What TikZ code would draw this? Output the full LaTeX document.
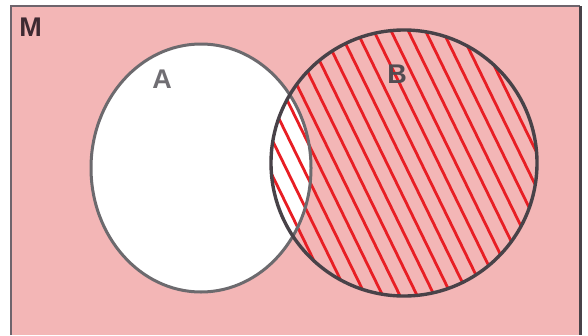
\documentclass[tikz,border=0pt]{standalone}
\usepackage{fontspec}
\setmainfont{Liberation Sans}
\definecolor{pinkbg}{RGB}{243,182,182}
\definecolor{hatchred}{RGB}{232,30,36}
\definecolor{edgeA}{RGB}{108,106,110}
\definecolor{edgeB}{RGB}{72,66,72}
\definecolor{frameC}{RGB}{110,100,108}
\definecolor{labM}{RGB}{62,42,50}
\definecolor{labA}{RGB}{112,110,115}
\definecolor{labB}{RGB}{82,76,82}
\begin{document}
\begin{tikzpicture}[x=1pt,y=-1pt,
  lbl/.style={font=\bfseries\fontsize{27}{27}\selectfont, inner sep=0pt},
  frame/.style={draw=frameC, line width=1.2pt},
  hatchline/.style={draw=hatchred, line width=2.8pt, line cap=round},
  setA/.style={draw=edgeA, line width=3pt},
  setB/.style={draw=edgeB, line width=3.4pt}]
\useasboundingbox (0,0) rectangle (588,335);
\fill[white] (0,0) rectangle (588,335);
\fill[pinkbg] (11,6) rectangle (580,335);
\draw[frame] (11,335) -- (11,6) -- (580,6);
\draw[draw=edgeB, line width=2.6pt] (580.5,6) -- (580.5,335);
% set A interior is white
\fill[white] (201,168) ellipse [x radius=110pt, y radius=124pt];
% hatching of B
\begin{scope}
  \clip (404,163) circle [radius=133pt];
  \foreach \k [evaluate=\k as \px using 404-13.9*\k,
               evaluate=\k as \py using 163+6.8*\k] in {-11,...,11}
    \draw[hatchline] (\px-88,\py-180) -- (\px+88,\py+180);
\end{scope}
\draw[setA] (201,168) ellipse [x radius=110pt, y radius=124pt];
\draw[setB] (404,163) circle [radius=133pt];
\node[lbl, text=labM] (M) at (30.5,27.5) {M};
\node[lbl, text=labA] (A) at (162,79) {A};
\node[lbl, text=labB] (B) at (397,74) {B};
\end{tikzpicture}
\end{document}
